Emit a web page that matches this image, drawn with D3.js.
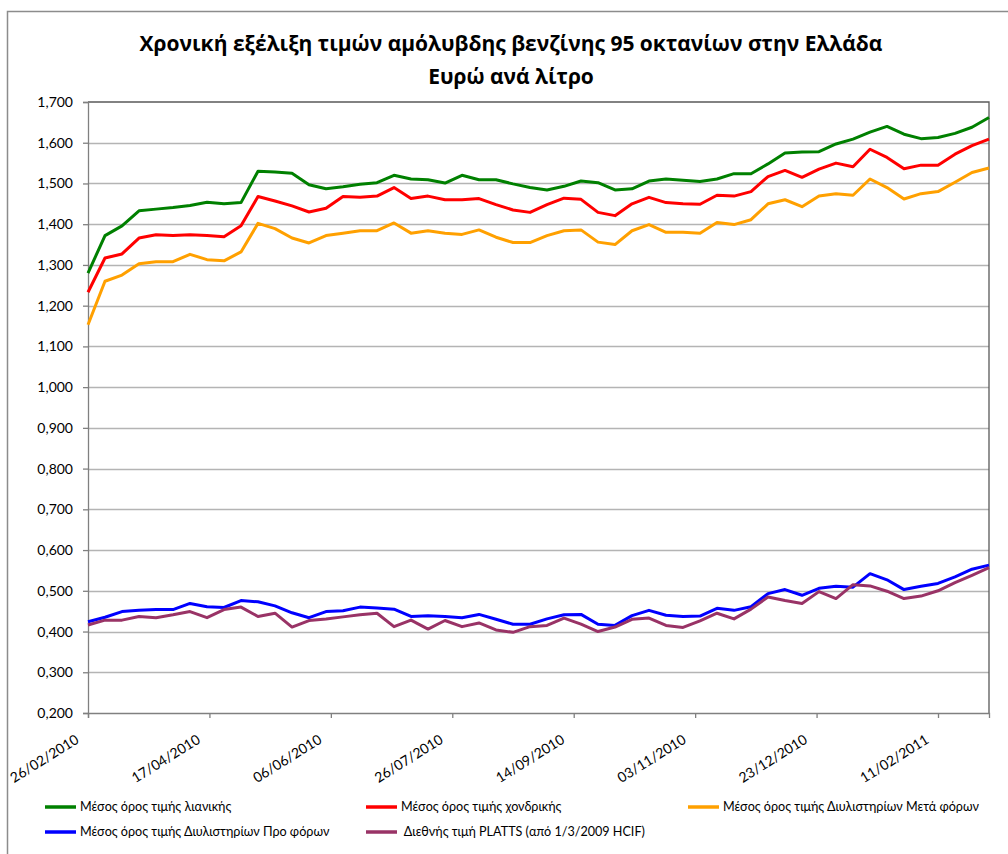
<!DOCTYPE html>
<html>
<head>
<meta charset="utf-8">
<script src="https://cdn.jsdelivr.net/npm/d3@7"></script>
<style>
  body { margin: 0; background: #fff; }
  svg { font-family: Lato, "Open Sans", sans-serif; }
</style>
</head>
<body>
<div id="chart"></div>
<script>
// weekly observations, first one on 26/02/2010
const startDate = new Date(2010, 1, 26);
const endDate = new Date(2011, 2, 4);
const dates = d3.timeDay.range(startDate, d3.timeDay.offset(endDate, 1), 7);

const retail = [1.280, 1.372, 1.396, 1.433, 1.437, 1.441, 1.446, 1.454, 1.450, 1.453,
    1.530, 1.528, 1.525, 1.497, 1.487, 1.492, 1.498, 1.502, 1.520, 1.511,
    1.509, 1.501, 1.520, 1.509, 1.509, 1.499, 1.490, 1.484, 1.493, 1.506,
    1.502, 1.484, 1.487, 1.506, 1.511, 1.508, 1.505, 1.511, 1.524, 1.524,
    1.548, 1.575, 1.577, 1.578, 1.597, 1.609, 1.626, 1.640, 1.621, 1.610,
    1.613, 1.623, 1.638, 1.662];
const wholesale = [1.233, 1.317, 1.327, 1.366, 1.374, 1.372, 1.374, 1.372, 1.369, 1.396,
    1.468, 1.457, 1.445, 1.430, 1.439, 1.468, 1.466, 1.469, 1.490, 1.463,
    1.469, 1.460, 1.460, 1.463, 1.448, 1.435, 1.429, 1.448, 1.464, 1.461,
    1.429, 1.421, 1.450, 1.466, 1.453, 1.450, 1.449, 1.471, 1.469, 1.480,
    1.517, 1.532, 1.515, 1.535, 1.550, 1.541, 1.584, 1.564, 1.536, 1.545,
    1.545, 1.572, 1.593, 1.609];
const refineryAfterTax = [1.153, 1.260, 1.275, 1.303, 1.308, 1.308, 1.326, 1.313, 1.310, 1.332,
    1.402, 1.389, 1.366, 1.354, 1.372, 1.378, 1.384, 1.384, 1.403, 1.378,
    1.384, 1.378, 1.375, 1.386, 1.368, 1.355, 1.355, 1.372, 1.384, 1.386,
    1.356, 1.350, 1.384, 1.399, 1.380, 1.380, 1.378, 1.404, 1.399, 1.411,
    1.450, 1.460, 1.443, 1.469, 1.475, 1.471, 1.511, 1.490, 1.462, 1.475,
    1.480, 1.503, 1.527, 1.538];
const refineryPreTax = [0.424, 0.435, 0.449, 0.452, 0.454, 0.454, 0.469, 0.461, 0.459, 0.476,
    0.473, 0.463, 0.446, 0.434, 0.449, 0.451, 0.460, 0.458, 0.455, 0.437,
    0.439, 0.437, 0.434, 0.442, 0.430, 0.418, 0.418, 0.431, 0.441, 0.442,
    0.418, 0.415, 0.439, 0.452, 0.440, 0.437, 0.438, 0.457, 0.452, 0.461,
    0.493, 0.503, 0.489, 0.506, 0.511, 0.509, 0.542, 0.527, 0.503, 0.511,
    0.518, 0.534, 0.553, 0.563];
const platts = [0.416, 0.428, 0.428, 0.437, 0.434, 0.441, 0.449, 0.434, 0.454, 0.460,
    0.437, 0.445, 0.411, 0.427, 0.431, 0.436, 0.441, 0.445, 0.412, 0.428,
    0.406, 0.427, 0.412, 0.421, 0.404, 0.398, 0.412, 0.415, 0.433, 0.418,
    0.400, 0.411, 0.430, 0.433, 0.415, 0.410, 0.426, 0.445, 0.431, 0.455,
    0.485, 0.476, 0.469, 0.498, 0.481, 0.515, 0.512, 0.499, 0.481, 0.487,
    0.500, 0.520, 0.538, 0.557];

const seriesNames = [
    'Μέσος όρος τιμής λιανικής',
    'Μέσος όρος τιμής χονδρικής',
    'Μέσος όρος τιμής Διυλιστηρίων Μετά φόρων',
    'Μέσος όρος τιμής Διυλιστηρίων Προ φόρων',
    ' Διεθνής τιμή PLATTS (από 1/3/2009 HCIF)'
];
const seriesColors = ['#008000', '#ff0000', '#ffa000', '#0000ff', '#993366'];
const seriesValues = [retail, wholesale, refineryAfterTax, refineryPreTax, platts];

const titleLines = ['Χρονική εξέλιξη τιμών αμόλυβδης βενζίνης 95 οκτανίων στην Ελλάδα', 'Ευρώ ανά λίτρο'];
const yTicks = d3.range(2, 18).map(d => d / 10);

const width = 1008, height = 854;
const margin = {left: 88, right: 19, top: 102, bottom: 141};

const svg = d3.select('#chart')
    .append('svg')
    .attr('width', width)
    .attr('height', height);

// outer chart frame
svg.append('rect')
    .attr('x', 7.5).attr('y', 11.5)
    .attr('width', 1010).attr('height', 860)
    .attr('fill', 'none')
    .attr('stroke', '#8c8c8c')
    .attr('stroke-width', 1.5);

svg.selectAll('.title')
    .data(titleLines)
    .enter()
    .append('text')
    .attr('class', 'title')
    .attr('x', 511)
    .attr('y', (d, i) => 51 + i * 33)
    .attr('text-anchor', 'middle')
    .attr('font-family', '"Open Sans", sans-serif')
    .attr('font-size', '21px')
    .attr('font-weight', '700')
    .attr('fill', '#000')
    .text(d => d);

const x = d3.scaleTime()
    .domain([startDate, endDate])
    .range([margin.left, width - margin.right]);

const y = d3.scaleLinear()
    .domain([0.2, 1.7])
    .range([height - margin.bottom, margin.top]);

// gridlines
svg.append('g')
    .selectAll('line')
    .data(yTicks.slice(1, -1))
    .enter()
    .append('line')
    .attr('x1', margin.left)
    .attr('x2', width - margin.right)
    .attr('y1', d => Math.round(y(d)) + 0.5)
    .attr('y2', d => Math.round(y(d)) + 0.5)
    .attr('stroke', '#b4b4b4')
    .attr('stroke-width', 1.3);

// plot frame top/right
svg.append('path')
    .attr('d', `M${margin.left},${y(1.7)}H${width - margin.right}V${y(0.2)}`)
    .attr('fill', 'none')
    .attr('stroke', '#595959')
    .attr('stroke-width', 1.3);

const fmt = d3.format('.3f');
const yAxis = d3.axisLeft(y)
    .tickValues(yTicks)
    .tickSize(5)
    .tickPadding(10)
    .tickFormat(d => fmt(d).replace('.', ','));

const gy = svg.append('g')
    .attr('transform', `translate(${margin.left},0)`)
    .call(yAxis);
gy.selectAll('text').attr('font-size', '14px').attr('fill', '#000').attr('font-family', 'Lato, sans-serif');
gy.selectAll('line, path').attr('stroke', '#808080').attr('stroke-width', 1.3);

const xTickValues = d3.range(0, 8).map(k => d3.timeDay.offset(startDate, k * 50));
const xAxis = d3.axisBottom(x)
    .tickValues(xTickValues)
    .tickSize(5)
    .tickFormat(d3.timeFormat('%d/%m/%Y'));

const gx = svg.append('g')
    .attr('transform', `translate(0,${y(0.2)})`)
    .call(xAxis);
gx.selectAll('line, path').attr('stroke', '#808080').attr('stroke-width', 1.3);
gx.selectAll('text')
    .attr('font-size', '14px')
    .attr('font-family', 'Lato, sans-serif')
    .attr('fill', '#000')
    .attr('text-anchor', 'end')
    .attr('dy', '0.7em')
    .attr('transform', 'translate(-18,14) rotate(-32)');

const line = d3.line()
    .x((d, i) => x(dates[i]))
    .y(d => y(d));

svg.append('g')
    .selectAll('path')
    .data(seriesValues)
    .enter()
    .append('path')
    .attr('d', d => line(d))
    .attr('fill', 'none')
    .attr('stroke', (d, i) => seriesColors[i])
    .attr('stroke-width', 3)
    .attr('stroke-linejoin', 'round');

// legend: 3 columns, 2 rows
const legendX = [45, 366, 688];
const legendY = [807, 832];
const legend = svg.append('g')
    .selectAll('g')
    .data(seriesNames)
    .enter()
    .append('g')
    .attr('transform', (d, i) => `translate(${legendX[i % 3]},${legendY[Math.floor(i / 3)]})`);

legend.append('line')
    .attr('x1', 0).attr('x2', 31)
    .attr('stroke', (d, i) => seriesColors[i])
    .attr('stroke-width', 3.5);

legend.append('text')
    .attr('x', 35)
    .attr('dy', '0.35em')
    .attr('font-size', '12.6px')
    .attr('fill', '#000')
    .style('white-space', 'pre')
    .text(d => d);
</script>
</body>
</html>
